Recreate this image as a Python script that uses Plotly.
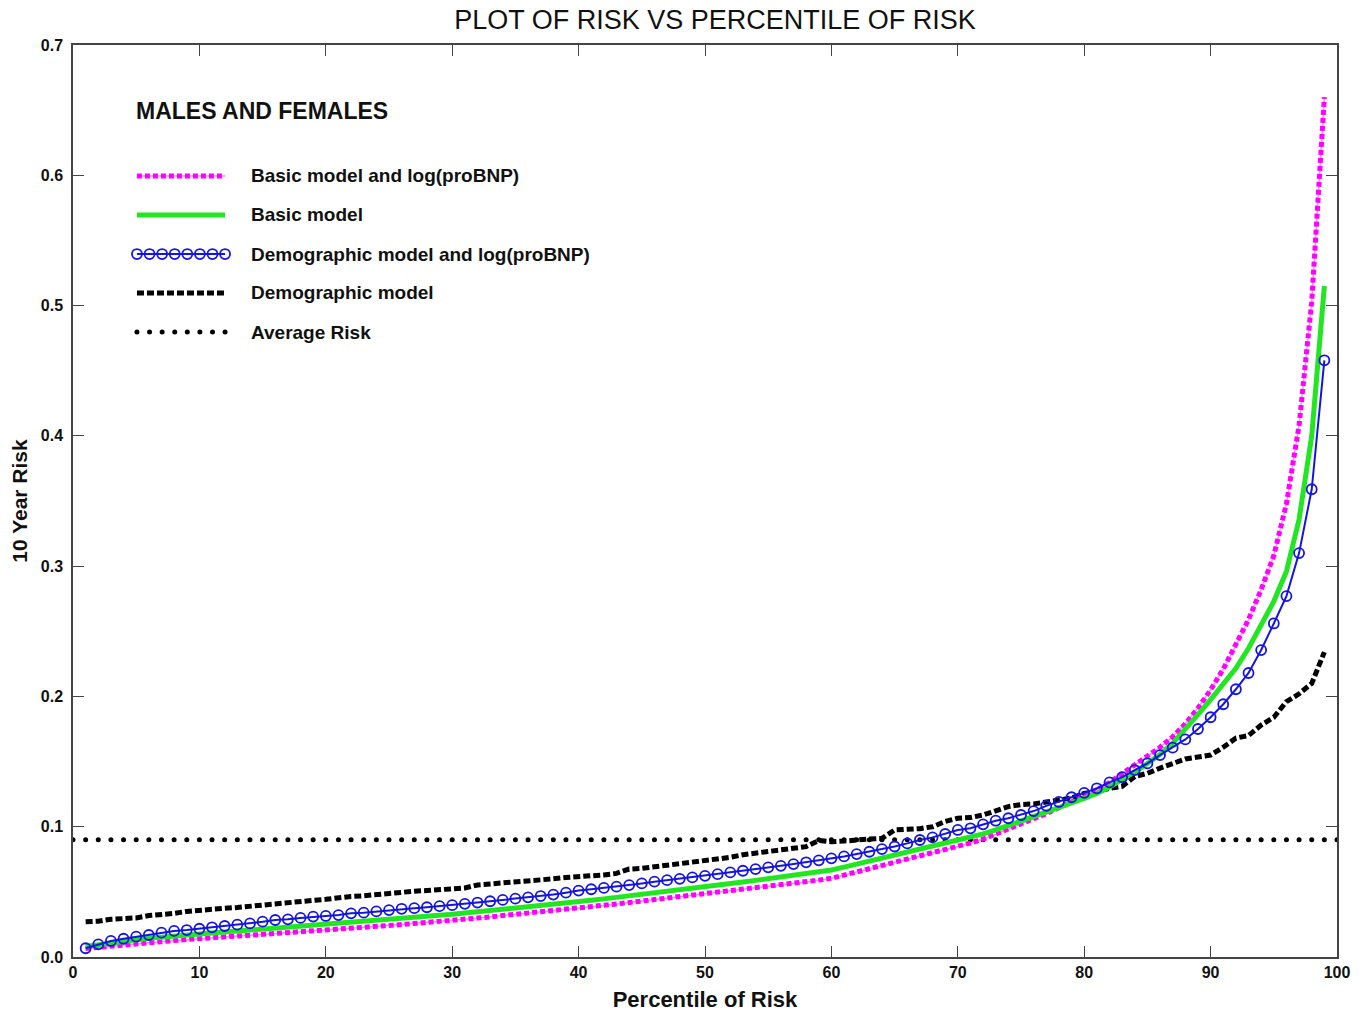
import plotly.graph_objects as go

percentiles = list(range(1, 100))

basic_log_probnp = [
    0.0065, 0.0075, 0.0085, 0.0094, 0.0102, 0.0110, 0.0118, 0.0126, 0.0134, 0.0143,
    0.0149, 0.0155, 0.0161, 0.0167, 0.0173, 0.0179, 0.0185, 0.0192, 0.0199, 0.0207,
    0.0214, 0.0221, 0.0228, 0.0235, 0.0242, 0.0249, 0.0256, 0.0264, 0.0272, 0.0281,
    0.0290, 0.0299, 0.0308, 0.0317, 0.0326, 0.0335, 0.0344, 0.0354, 0.0364, 0.0374,
    0.0385, 0.0396, 0.0407, 0.0418, 0.0429, 0.0440, 0.0451, 0.0462, 0.0472, 0.0483,
    0.0494, 0.0505, 0.0516, 0.0527, 0.0539, 0.0551, 0.0563, 0.0576, 0.0590, 0.0604,
    0.0628, 0.0652, 0.0676, 0.0700, 0.0724, 0.0748, 0.0773, 0.0798, 0.0823, 0.0848,
    0.0875, 0.0905, 0.0942, 0.0980, 0.1020, 0.1060, 0.1100, 0.1145, 0.1190, 0.1235,
    0.1280, 0.1340, 0.1405, 0.1470, 0.1540, 0.1610, 0.1690, 0.1790, 0.1910, 0.2050,
    0.2210, 0.2390, 0.2590, 0.2820, 0.3080, 0.3480, 0.4080, 0.5030, 0.6600]

basic_model = [
    0.0080, 0.0095, 0.0110, 0.0122, 0.0133, 0.0144, 0.0154, 0.0163, 0.0171, 0.0178,
    0.0185, 0.0192, 0.0199, 0.0206, 0.0213, 0.0220, 0.0227, 0.0234, 0.0242, 0.0250,
    0.0257, 0.0264, 0.0271, 0.0278, 0.0286, 0.0294, 0.0302, 0.0310, 0.0319, 0.0328,
    0.0337, 0.0346, 0.0355, 0.0364, 0.0373, 0.0382, 0.0391, 0.0401, 0.0412, 0.0424,
    0.0435, 0.0446, 0.0457, 0.0468, 0.0479, 0.0490, 0.0501, 0.0513, 0.0526, 0.0540,
    0.0552, 0.0564, 0.0576, 0.0588, 0.0600, 0.0613, 0.0626, 0.0639, 0.0653, 0.0668,
    0.0690, 0.0712, 0.0735, 0.0758, 0.0780, 0.0805, 0.0830, 0.0852, 0.0875, 0.0898,
    0.0920, 0.0945, 0.0975, 0.1008, 0.1042, 0.1078, 0.1115, 0.1148, 0.1182, 0.1218,
    0.1256, 0.1305, 0.1360, 0.1420, 0.1485, 0.1555, 0.1640, 0.1745, 0.1860, 0.1975,
    0.2090, 0.2215, 0.2370, 0.2545, 0.2730, 0.2960, 0.3360, 0.4000, 0.5150]

demographic_log_probnp = [
    0.0067, 0.0097, 0.0123, 0.0140, 0.0156, 0.0169, 0.0187, 0.0200, 0.0207, 0.0217,
    0.0228, 0.0238, 0.0248, 0.0258, 0.0271, 0.0284, 0.0289, 0.0300, 0.0310, 0.0315,
    0.0322, 0.0335, 0.0340, 0.0350, 0.0360, 0.0370, 0.0375, 0.0382, 0.0390, 0.0398,
    0.0408, 0.0418, 0.0428, 0.0438, 0.0448, 0.0458, 0.0468, 0.0479, 0.0494, 0.0510,
    0.0520, 0.0530, 0.0540, 0.0552, 0.0565, 0.0578, 0.0590, 0.0600, 0.0611, 0.0623,
    0.0636, 0.0649, 0.0662, 0.0675, 0.0688, 0.0700, 0.0713, 0.0727, 0.0742, 0.0757,
    0.0772, 0.0790, 0.0808, 0.0828, 0.0848, 0.0872, 0.0898, 0.0918, 0.0944, 0.0975,
    0.0988, 0.1018, 0.1046, 0.1065, 0.1090, 0.1120, 0.1160, 0.1190, 0.1226, 0.1260,
    0.1295, 0.1340, 0.1380, 0.1435, 0.1486, 0.1550, 0.1607, 0.1670, 0.1750, 0.1840,
    0.1940, 0.2055, 0.2180, 0.2356, 0.2560, 0.2770, 0.3100, 0.3590, 0.4580]

demographic_model = [
    0.0271, 0.0275, 0.0290, 0.0297, 0.0300, 0.0318, 0.0325, 0.0335, 0.0350, 0.0355,
    0.0360, 0.0374, 0.0380, 0.0390, 0.0404, 0.0410, 0.0420, 0.0430, 0.0435, 0.0443,
    0.0458, 0.0465, 0.0470, 0.0480, 0.0490, 0.0500, 0.0505, 0.0510, 0.0515, 0.0520,
    0.0530, 0.0553, 0.0560, 0.0565, 0.0570, 0.0578, 0.0590, 0.0600, 0.0610, 0.0616,
    0.0620, 0.0630, 0.0642, 0.0675, 0.0680, 0.0693, 0.0700, 0.0710, 0.0725, 0.0744,
    0.0750, 0.0765, 0.0785, 0.0796, 0.0805, 0.0820, 0.0830, 0.0847, 0.0895, 0.0885,
    0.0890, 0.0900, 0.0905, 0.0910, 0.0975, 0.0980, 0.0985, 0.1000, 0.1040, 0.1065,
    0.1070, 0.1090, 0.1120, 0.1154, 0.1170, 0.1175, 0.1190, 0.1205, 0.1220, 0.1256,
    0.1270, 0.1295, 0.1310, 0.1385, 0.1410, 0.1450, 0.1490, 0.1520, 0.1535, 0.1550,
    0.1610, 0.1680, 0.1700, 0.1780, 0.1840, 0.1960, 0.2020, 0.2100, 0.2340]

average_risk = 0.09
avg_x = list(range(0, 101))

series_names = ["Basic model and log(proBNP)", "Basic model",
                "Demographic model and log(proBNP)", "Demographic model", "Average Risk"]

x_ticks = list(range(0, 101, 10))
y_ticks = [0.0, 0.1, 0.2, 0.3, 0.4, 0.5, 0.6, 0.7]

MAGENTA = "#FF00FF"
MAGENTA_LIGHT = "#FF8CFF"
GREEN = "#22E622"
BLUE = "#1414E6"
BLACK = "#000000"
FONT = "Liberation Sans, Arial, sans-serif"

fig = go.Figure()

fig.add_trace(go.Scatter(x=avg_x, y=[average_risk] * len(avg_x), mode="markers",
                         marker=dict(color=BLACK, size=5, symbol="circle"),
                         showlegend=False))
fig.add_trace(go.Scatter(x=percentiles, y=demographic_model, mode="lines",
                         line=dict(color=BLACK, width=5, dash="7px,3px"), showlegend=False))
fig.add_trace(go.Scatter(x=percentiles, y=basic_log_probnp, mode="lines",
                         line=dict(color=MAGENTA_LIGHT, width=1.5), showlegend=False))
fig.add_trace(go.Scatter(x=percentiles, y=basic_log_probnp, mode="lines",
                         line=dict(color=MAGENTA, width=5, dash="5px,3px"), showlegend=False))
fig.add_trace(go.Scatter(x=percentiles, y=basic_model, mode="lines",
                         line=dict(color=GREEN, width=5), showlegend=False))
fig.add_trace(go.Scatter(x=percentiles, y=demographic_log_probnp, mode="lines+markers",
                         line=dict(color=BLUE, width=2),
                         marker=dict(symbol="circle-open", size=10, color=BLUE,
                                     line=dict(width=1.8, color=BLUE)),
                         showlegend=False))

# Custom legend samples on a hidden overlay axis (0..1 in plot area)
leg_x0, leg_x1 = 0.0506, 0.1203
leg_rows = [0.8564, 0.8136, 0.7708, 0.7281, 0.6853]
n_sample = 8
sample_x = [leg_x0 + i * (leg_x1 - leg_x0) / (n_sample - 1) for i in range(n_sample)]

fig.add_trace(go.Scatter(x=[leg_x0, leg_x1], y=[leg_rows[0]] * 2, mode="lines",
                         line=dict(color=MAGENTA_LIGHT, width=1.5),
                         xaxis="x2", yaxis="y2", showlegend=False, hoverinfo="skip"))
fig.add_trace(go.Scatter(x=[leg_x0, leg_x1], y=[leg_rows[0]] * 2, mode="lines",
                         line=dict(color=MAGENTA, width=5, dash="5px,3px"),
                         xaxis="x2", yaxis="y2", showlegend=False, hoverinfo="skip"))
fig.add_trace(go.Scatter(x=[leg_x0, leg_x1], y=[leg_rows[1]] * 2, mode="lines",
                         line=dict(color=GREEN, width=5),
                         xaxis="x2", yaxis="y2", showlegend=False, hoverinfo="skip"))
fig.add_trace(go.Scatter(x=sample_x, y=[leg_rows[2]] * n_sample, mode="lines+markers",
                         line=dict(color=BLUE, width=2),
                         marker=dict(symbol="circle-open", size=10, color=BLUE,
                                     line=dict(width=1.8, color=BLUE)),
                         xaxis="x2", yaxis="y2", showlegend=False, hoverinfo="skip"))
fig.add_trace(go.Scatter(x=[leg_x0, leg_x1], y=[leg_rows[3]] * 2, mode="lines",
                         line=dict(color=BLACK, width=5, dash="7px,3px"),
                         xaxis="x2", yaxis="y2", showlegend=False, hoverinfo="skip"))
fig.add_trace(go.Scatter(x=sample_x, y=[leg_rows[4]] * n_sample, mode="markers",
                         marker=dict(color=BLACK, size=5),
                         xaxis="x2", yaxis="y2", showlegend=False, hoverinfo="skip"))

annotations = [dict(x=0.0482, y=0.9276, xref="paper", yref="paper", xanchor="left",
                    yanchor="middle", text="<b>MALES AND FEMALES</b>", showarrow=False,
                    font=dict(size=23, color="#111111", family=FONT))]
for name, yy in zip(series_names, leg_rows):
    annotations.append(dict(x=0.1392, y=yy, xref="paper", yref="paper", xanchor="left",
                            yanchor="middle", text="<b>" + name + "</b>", showarrow=False,
                            font=dict(size=19, color="#111111", family=FONT)))

axis_common = dict(showline=True, linecolor="#444444", linewidth=1.5, mirror="ticks",
                   ticks="inside", ticklen=11, tickwidth=1.2, tickcolor="#444444",
                   showgrid=False, zeroline=False, automargin=False,
                   tickfont=dict(size=16, color="#111111", family=FONT))

fig.update_layout(
    width=1367, height=1013,
    margin=dict(l=73, r=30, t=45, b=56),
    paper_bgcolor="white", plot_bgcolor="white",
    title=dict(text="PLOT OF RISK VS PERCENTILE OF RISK", x=0.523, xanchor="center",
               y=0.9805, yanchor="middle", automargin=False,
               font=dict(size=27, color="#111111", family=FONT)),
    xaxis=dict(range=[0, 100], tickvals=x_ticks, ticktext=[f"<b>{v}</b>" for v in x_ticks],
               title=dict(text="<b>Percentile of Risk</b>", standoff=12,
                          font=dict(size=22, color="#111111", family=FONT)),
               **axis_common),
    yaxis=dict(range=[0, 0.7], tickvals=y_ticks, ticktext=[f"<b>{v:.1f}</b>" for v in y_ticks],
               ticklabelstandoff=5,
               title=dict(text="<b>10 Year Risk</b>", standoff=7,
                          font=dict(size=21, color="#111111", family=FONT)),
               **axis_common),
    xaxis2=dict(range=[0, 1], overlaying="x", visible=False, fixedrange=True),
    yaxis2=dict(range=[0, 1], overlaying="y", visible=False, fixedrange=True),
    annotations=annotations,
    showlegend=False,
)

fig.write_html("out.html", config={"displayModeBar": False},
               post_script="document.body.style.margin='0';document.body.style.padding='0';")
